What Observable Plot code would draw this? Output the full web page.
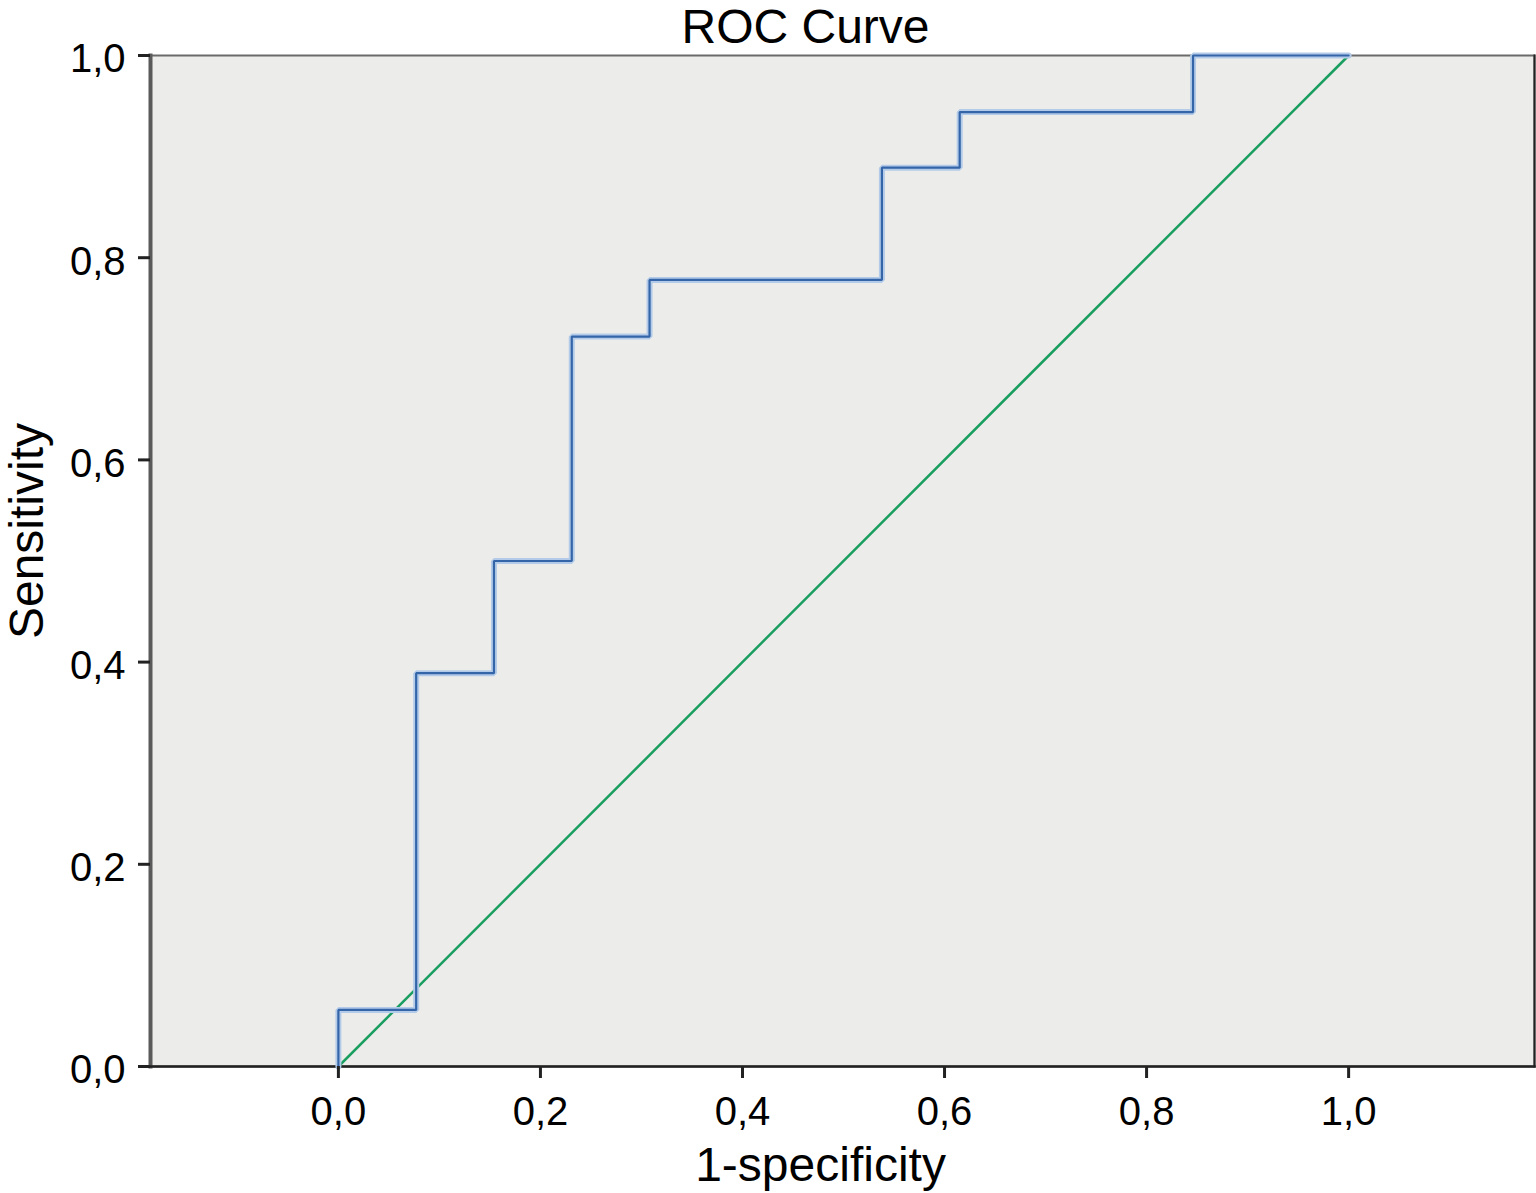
<!DOCTYPE html>
<html>
<head>
<meta charset="utf-8">
<script src="https://cdn.jsdelivr.net/npm/d3@7"></script>
<script src="https://cdn.jsdelivr.net/npm/@observablehq/plot@0.6"></script>
<style>
  html, body { margin: 0; padding: 0; background: #fff; }
  #chart svg { display: block; }
</style>
</head>
<body>
<div id="chart"></div>
<script>
// ROC curve corner points (1-specificity, sensitivity)
const fpr = [0, 0, 0.077, 0.077, 0.154, 0.154, 0.231, 0.231, 0.308, 0.308, 0.538, 0.538, 0.615, 0.615, 0.846, 0.846, 1.0];
const tpr = [0, 0.056, 0.056, 0.389, 0.389, 0.5, 0.5, 0.722, 0.722, 0.778, 0.778, 0.889, 0.889, 0.944, 0.944, 1.0, 1.0];
// reference diagonal
const refX = [0, 1];
const refY = [0, 1];
const ticks = [0, 0.2, 0.4, 0.6, 0.8, 1.0];
const title = "ROC Curve";
const xLabel = "1-specificity";
const yLabel = "Sensitivity";

const roc = fpr.map((x, i) => ({x, y: tpr[i]}));
const diag = refX.map((x, i) => ({x, y: refY[i]}));
const fmt = d => d.toFixed(1).replace(".", ",");

const chart = Plot.plot({
  width: 1536,
  height: 1193,
  marginLeft: 150,
  marginRight: 2,
  marginTop: 55,
  marginBottom: 127,
  style: {fontFamily: "'Liberation Sans', Arial, Helvetica, sans-serif", fontSize: "40px", color: "#000", background: "#fff"},
  x: {domain: [-0.186, 1.184], ticks, tickFormat: fmt},
  y: {domain: [0, 1], ticks, tickFormat: fmt},
  marks: [
    Plot.frame({fill: "#ececea", stroke: "#6a6a6a", strokeWidth: 2}),
    Plot.frame({anchor: "left", stroke: "#5a5a5a", strokeWidth: 4}),
    Plot.frame({anchor: "bottom", stroke: "#222", strokeWidth: 2.5}),
    Plot.frame({anchor: "right", stroke: "#222", strokeWidth: 2}),
    Plot.line(diag, {x: "x", y: "y", stroke: "#1a9e60", strokeWidth: 2.5}),
    Plot.line(roc, {x: "x", y: "y", stroke: "#b3cbe8", strokeWidth: 6, strokeLinejoin: "miter"}),
    Plot.line(roc, {x: "x", y: "y", stroke: "#3465a8", strokeWidth: 2.2, strokeLinejoin: "miter"}),
    Plot.axisX({ticks, tickFormat: fmt, tickSize: 12, tickPadding: 18, stroke: "#222", strokeWidth: 3, fontSize: 40, label: null}),
    Plot.axisY({ticks, tickSize: 12, text: null, stroke: "#222", strokeWidth: 3, label: null}),
    Plot.axisY({ticks, tickFormat: fmt, tickSize: 0, tickPadding: 25, dy: 4, fontSize: 40, label: null}),
    Plot.text([xLabel], {frameAnchor: "bottom", lineAnchor: "middle", dx: -22, dy: 99, fontSize: 48, fill: "#000"}),
    Plot.text([yLabel], {frameAnchor: "left", textAnchor: "middle", lineAnchor: "middle", rotate: -90, dx: -123, dy: -30, fontSize: 48, fill: "#000"}),
    Plot.text([title], {frameAnchor: "top", lineAnchor: "middle", dx: -37, dy: -28, fontSize: 48, fill: "#000"})
  ]
});
document.getElementById("chart").appendChild(chart);
</script>
</body>
</html>
